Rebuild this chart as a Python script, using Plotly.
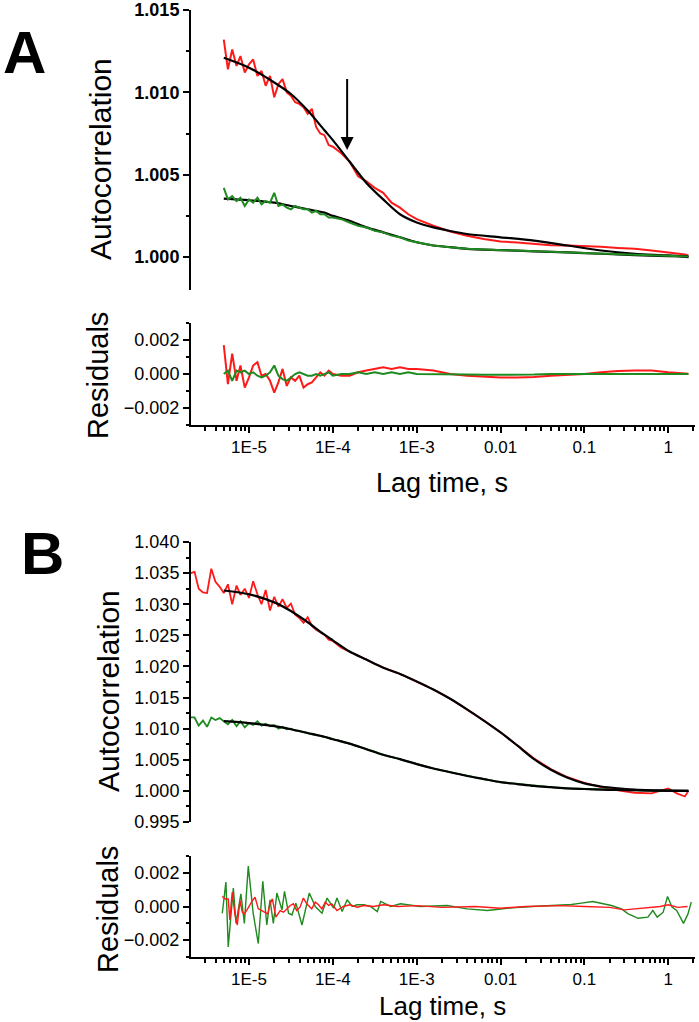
import math
import plotly.graph_objects as go

# ---------------- DATA ----------------
# Panel A: lag times (s) for measured curves and residuals
lag_a = [5.0e-6, 5.6e-6, 6.3e-6, 7.1e-6, 7.9e-6, 8.9e-6,
         1.0e-5, 1.12e-5, 1.26e-5, 1.41e-5, 1.58e-5, 1.78e-5, 2.0e-5, 2.24e-5, 2.51e-5, 2.82e-5,
         3.16e-5, 3.55e-5, 3.98e-5, 4.47e-5, 5.01e-5, 5.62e-5, 6.31e-5, 7.08e-5, 7.94e-5, 8.91e-5,
         1.0e-4, 1.26e-4, 1.58e-4, 2.0e-4, 2.51e-4, 3.16e-4, 3.98e-4, 5.01e-4, 6.31e-4, 7.94e-4,
         1.0e-3, 1.58e-3, 2.51e-3, 3.98e-3, 6.31e-3,
         1.0e-2, 1.58e-2, 2.51e-2, 3.98e-2, 6.31e-2,
         0.1, 0.158, 0.251, 0.398, 0.631,
         1.0, 1.26, 1.58, 1.74]

red_a = [1.0132, 1.0114, 1.0126, 1.0116, 1.0122, 1.0112,
         1.0117, 1.0120, 1.0110, 1.0113, 1.0104, 1.0110, 1.0097, 1.0105, 1.0108, 1.0100,
         1.0098, 1.0094, 1.0093, 1.0091, 1.0087, 1.0090, 1.0079, 1.0075, 1.0074, 1.0068,
         1.0067, 1.0063, 1.0058, 1.0049, 1.0046, 1.0042, 1.0039, 1.0033, 1.0030, 1.0026,
         1.0023, 1.0019, 1.00155, 1.0013, 1.0011,
         1.00095, 1.00088, 1.0008, 1.00072, 1.0007,
         1.00068, 1.00062, 1.00055, 1.0005, 1.0004,
         1.0003, 1.00022, 1.00015, 1.0001]

green_a = [1.0042, 1.0035, 1.0037, 1.0034, 1.0036, 1.0031,
           1.0035, 1.0033, 1.0036, 1.0032, 1.0034, 1.0033, 1.0039, 1.0031, 1.0032, 1.0030,
           1.0029, 1.0031, 1.0030, 1.0029, 1.0029, 1.0027, 1.0028, 1.0026, 1.0026, 1.0024,
           1.0024, 1.0023, 1.0021, 1.0019, 1.0018, 1.0016, 1.0015, 1.0013, 1.0012, 1.0010,
           1.0009, 1.0007, 1.0006, 1.0005, 1.00046,
           1.00042, 1.00038, 1.00035, 1.00031, 1.00028,
           1.00025, 1.00021, 1.00018, 1.00014, 1.00011,
           1.00008, 1.00006, 1.00005, 1.00004]

fit_lag_a = [5e-6, 1e-5, 2e-5, 3.16e-5, 5.01e-5, 7.94e-5, 1e-4, 1.58e-4, 2.51e-4, 3.98e-4, 6.31e-4,
             1e-3, 1.58e-3, 2.51e-3, 3.98e-3, 1e-2, 2.51e-2, 6.31e-2, 0.158, 0.398, 1.0, 1.74]
fit_red_a = [1.0121, 1.0115, 1.0106, 1.0099, 1.0089, 1.0077, 1.0071, 1.0058, 1.0045, 1.0035, 1.0026,
             1.0021, 1.0018, 1.00158, 1.0014, 1.0012, 1.0010, 1.0007, 1.0004, 1.0002, 1.0001, 1.0000]
fit_green_a = [1.00355, 1.00345, 1.0033, 1.0031, 1.0029, 1.0027, 1.0025, 1.0022, 1.0018, 1.0015, 1.0012,
               1.0009, 1.0007, 1.0006, 1.0005, 1.00042, 1.00035, 1.00028, 1.0002, 1.00012, 1.00006, 1.00004]

res_red_a = [0.0017, -0.0006, 0.0012, -0.0004, 0.0005, -0.0008,
             -0.0002, 0.0005, 0.0007, -0.0001, 0.0000, -0.0004, -0.0011, -0.0005, 0.0003, -0.0007,
             -0.0002, -0.0004, -0.0001, -0.0008, -0.0006, -0.0005, -0.0002, 0.0001, -0.0001, 0.0002,
             0.0000, -0.0001, -0.0001, 0.0001, 0.0002, 0.0003, 0.0004, 0.0003, 0.0004, 0.0003,
             0.0003, 0.0002, 0.0000, -0.0001, -0.00015,
             -0.0002, -0.0002, -0.00018, -0.0001, -0.00005,
             0.0000, 0.0001, 0.00018, 0.0002, 0.0002,
             0.0001, 0.00005, 0.00003, 0.00002]
res_green_a = [0.0000, 0.0002, -0.0004, 0.0002, 0.0001, 0.0002,
               0.0000, 0.0001, -0.0001, -0.0002, -0.0001, 0.0001, 0.0005, -0.0001, -0.0003, -0.0004,
               -0.0002, 0.0000, 0.0001, 0.0000, -0.0001, -0.0001, 0.0000, -0.0001, 0.0000, 0.0001,
               -0.0001, 0.0000, 0.0000, 0.0001, 0.0000, 0.0001, 0.0000, 0.0001, 0.0000, 0.0001,
               0.0000, 0.0000, 0.0000, -0.00003, -0.00005,
               -0.00005, -0.00005, -0.00003, 0.0000, 0.0000,
               0.0, 0.0, 0.0, 0.0, 0.0,
               0.0, 0.0, 0.0, 0.0]

# Arrow marker in panel A
arrow_lag = 1.48e-4
arrow_tail = 1.0109
arrow_tip = 1.0065

# Panel B
lag_b = [2.0e-6, 2.24e-6, 2.51e-6, 2.82e-6, 3.16e-6, 3.55e-6, 3.98e-6, 4.47e-6] + lag_a

red_b = [1.0350, 1.0352, 1.0325, 1.0319, 1.0318, 1.0357, 1.0336, 1.0328,
         1.0318, 1.0332, 1.0300, 1.0330, 1.0315, 1.0325,
         1.0310, 1.0337, 1.0316, 1.0300, 1.0323, 1.0290, 1.0312, 1.0296, 1.0308, 1.0294,
         1.0301, 1.0283, 1.0278, 1.0270, 1.0279, 1.0265, 1.0259, 1.0255, 1.0251, 1.0243,
         1.0241, 1.0230, 1.0224, 1.0217, 1.0211, 1.0204, 1.0198, 1.0193, 1.0188, 1.0182,
         1.0176, 1.0163, 1.0148, 1.0131, 1.0113,
         1.0094, 1.0073, 1.0052, 1.0035, 1.0022,
         1.0013, 1.0006, 1.0001, 0.9997, 0.9996,
         1.0004, 0.9996, 0.9991, 1.0000]

green_b = [1.0118, 1.0118, 1.0105, 1.0113, 1.0103, 1.0118, 1.0114, 1.0117,
           1.0112, 1.0107, 1.0114, 1.0104, 1.0112, 1.0102,
           1.0109, 1.0106, 1.0112, 1.0105, 1.0108, 1.0104, 1.0106, 1.0100, 1.0103, 1.0099,
           1.0100, 1.0097, 1.0096, 1.0094, 1.0093, 1.0091, 1.0090, 1.0088, 1.0087, 1.0085,
           1.0083, 1.0080, 1.0076, 1.0072, 1.0067, 1.0063, 1.0058, 1.0055, 1.0051, 1.0047,
           1.0043, 1.0036, 1.0030, 1.0024, 1.0019,
           1.0014, 1.0011, 1.0008, 1.0006, 1.0004,
           1.0003, 1.0002, 1.00015, 1.0001, 1.00005,
           1.0, 1.0, 1.0, 1.0]

fit_lag_b = [5e-6, 1e-5, 2e-5, 3.16e-5, 5.01e-5, 7.94e-5, 1e-4, 1.58e-4, 2.51e-4, 3.98e-4, 6.31e-4,
             1e-3, 1.58e-3, 2.51e-3, 3.98e-3, 6.31e-3, 1e-2, 1.58e-2, 2.51e-2, 3.98e-2, 6.31e-2,
             0.1, 0.158, 0.251, 0.398, 0.631, 1.0, 1.74]
fit_red_b = [1.0322, 1.0316, 1.0303, 1.0289, 1.0271, 1.0251, 1.0242, 1.0224, 1.0211, 1.0198, 1.0188,
             1.0176, 1.0163, 1.0148, 1.0131, 1.0113, 1.0094, 1.0073, 1.0051, 1.0034, 1.0021,
             1.0012, 1.0007, 1.0004, 1.0002, 1.0001, 1.00005, 1.0]
fit_green_b = [1.0112, 1.0109, 1.0104, 1.0099, 1.0093, 1.0087, 1.0083, 1.0076, 1.0067, 1.0058, 1.0051,
               1.0043, 1.0036, 1.0030, 1.0024, 1.0019, 1.0014, 1.0011, 1.0008, 1.0006, 1.0004,
               1.0003, 1.0002, 1.00015, 1.0001, 1.00005, 1.0, 1.0]

res_lag_green_b = [4.8e-6, 5.3e-6, 5.65e-6, 6.5e-6, 7.0e-6, 8.0e-6, 8.8e-6, 9.8e-6, 1.12e-5, 1.29e-5,
                   1.46e-5, 1.63e-5, 1.78e-5, 1.95e-5, 2.15e-5, 2.47e-5, 2.65e-5, 2.96e-5, 3.25e-5, 3.62e-5,
                   4.28e-5, 5.24e-5, 6.17e-5, 7.42e-5, 8.53e-5, 1.02e-4, 1.12e-4, 1.29e-4, 1.48e-4, 1.7e-4,
                   1.95e-4, 2.34e-4, 2.81e-4, 3.39e-4, 3.71e-4, 4.9e-4, 6.4e-4, 8.5e-4, 1.1e-3, 2.3e-3,
                   4.0e-3, 7.0e-3, 1.2e-2, 2.4e-2, 4.5e-2, 7.0e-2, 9.2e-2, 0.126, 0.21, 0.277,
                   0.333, 0.437, 0.571, 0.655, 0.74, 0.87, 0.98, 1.11, 1.26, 1.52, 1.72, 1.88]
res_green_b = [-0.0004, 0.00145, -0.0024, 0.0011, -0.001, 0.00075, -0.001, 0.0024, -0.0004, -0.0022,
               0.0015, -0.0011, 0.0004, -0.001, 0.0008, -0.0002, 0.0009, -0.0004, -0.0005, 0.0002,
               -0.0011, 0.0008, 0.0, -0.0004, 0.0005, -0.0001, 0.0005, -0.0003, 0.0004, 0.0,
               0.0001, 0.0001, 0.0, -0.0003, 0.0003, 0.0, 0.00016, 0.00006, 0.0, 0.00006,
               -0.00014, -0.00024, -0.0001, 0.0, 0.00006, 0.00012, 0.0002, 0.0003, 0.00006, -0.00014,
               -0.00044, -0.0007, -0.00063, -0.00024, -0.00063, -0.00034, 0.0006, -0.00004, -0.00024, -0.001,
               -0.00044, 0.00026]

res_lag_red_b = [4.8e-6, 5.2e-6, 5.65e-6, 5.9e-6, 6.3e-6, 6.8e-6, 7.25e-6, 7.8e-6, 8.3e-6, 8.8e-6,
                 9.6e-6, 1.03e-5, 1.1e-5, 1.18e-5, 1.29e-5, 1.42e-5, 1.55e-5, 1.67e-5, 1.78e-5, 1.9e-5,
                 2.09e-5, 2.2e-5, 2.35e-5, 2.58e-5, 2.82e-5, 3.1e-5, 3.38e-5, 3.7e-5, 4.06e-5, 4.45e-5,
                 4.88e-5, 5.6e-5, 6.17e-5, 6.7e-5, 7.4e-5, 8.1e-5, 8.9e-5, 9.7e-5, 1.12e-4, 1.33e-4,
                 1.6e-4, 1.95e-4, 2.34e-4, 3.05e-4, 4.0e-4, 6.0e-4, 1.0e-3, 2.0e-3, 5.0e-3, 1.0e-2,
                 2.0e-2, 5.0e-2, 0.1, 0.2, 0.3, 0.5, 0.8, 1.0, 1.3, 1.7]
res_red_b = [0.0006, 0.00045, 0.00045, -0.0008, 0.00085, -0.0005, -0.0011, 0.00036, -0.00034, -0.00044,
             -0.00014, 0.00016, 0.00036, 0.00055, -0.00014, -0.00024, -0.00034, -0.00044, 0.00016, 0.00045,
             -0.00063, -0.00044, -0.00024, -0.00034, -0.00014, 0.00006, 0.00016, -0.00024, -0.00004, 0.0005,
             0.00016, -0.00014, 0.00026, 0.00012, -0.00014, 0.00026, 0.00006, 0.00016, -0.00024, 0.0,
             0.0001, -0.00004, 0.00006, 0.0, 0.0001, 0.0, 0.00005, -0.00005, 0.0, -0.0001,
             0.0, 0.00005, 0.0, -0.00005, -0.0002, -0.0001, 0.0, 0.0001, -0.00005, 0.0]

x_tick_vals = [1e-5, 1e-4, 1e-3, 1e-2, 1e-1, 1]
x_tick_text = ["1E-5", "1E-4", "1E-3", "0.01", "0.1", "1"]

# ---------------- STYLE ----------------
W, H = 699, 1022
FONT = "Arial, 'Liberation Sans', sans-serif"
RED = "#ff1a1a"
GREEN = "#1f8a1f"
BLACK = "#000000"


def fx(p):
    return p / W


def fy(p):
    return 1 - p / H


fig = go.Figure()


def add(x, y, xa, ya, color, width, shape="linear"):
    fig.add_trace(go.Scatter(x=x, y=y, xaxis=xa, yaxis=ya, mode="lines",
                             line=dict(color=color, width=width, shape=shape, smoothing=0.8),
                             showlegend=False, hoverinfo="skip"))


# Panel A main
add(lag_a, red_a, "x", "y", RED, 2)
add(fit_lag_a, fit_red_a, "x", "y", BLACK, 2.2, "spline")
add(fit_lag_a, fit_green_a, "x", "y", BLACK, 2.2, "spline")
add(lag_a, green_a, "x", "y", GREEN, 2)
# Panel A residuals
add(lag_a, res_red_a, "x2", "y2", RED, 2)
add(lag_a, res_green_a, "x2", "y2", GREEN, 2)
# Panel B main
add(lag_b, red_b, "x3", "y3", RED, 1.8)
add(lag_b, green_b, "x3", "y3", GREEN, 1.8)
add(fit_lag_b, fit_red_b, "x3", "y3", BLACK, 2.2, "spline")
add(fit_lag_b, fit_green_b, "x3", "y3", BLACK, 2.2, "spline")
# Panel B residuals
add(res_lag_green_b, res_green_b, "x4", "y4", GREEN, 1.4)
add(res_lag_red_b, res_red_b, "x4", "y4", RED, 1.4)

minor_x = [m * 10 ** e for e in range(-6, 1) for m in range(2, 10)]
xr = [-5.692, 0.319]
xdom = [fx(191), fx(695)]

tick_font = dict(family=FONT, size=18, color=BLACK)
xtick_font = dict(family=FONT, size=17, color=BLACK)

base_x = dict(type="log", range=xr, domain=xdom, showgrid=False, zeroline=False, automargin=False)
shown_x = dict(base_x, showline=True, linecolor=BLACK, linewidth=2, ticks="outside",
               ticklen=6, tickwidth=2, tickcolor=BLACK, tickmode="array",
               tickvals=x_tick_vals, ticktext=x_tick_text, tickfont=xtick_font,
               minor=dict(tickmode="array", tickvals=minor_x, ticks="outside",
                          ticklen=3.5, tickwidth=1.5, tickcolor=BLACK))


def yax(dom, rng, dtick, mdtick, tick0, font):
    return dict(domain=dom, range=rng, showgrid=False, zeroline=False, showline=True,
                automargin=False,
                linecolor=BLACK, linewidth=2, ticks="outside", ticklen=6, tickwidth=2,
                tickcolor=BLACK, tickmode="linear", tick0=tick0, dtick=dtick,
                tickformat=".3f", tickfont=font,
                minor=dict(tickmode="linear", tick0=tick0, dtick=mdtick, ticks="outside",
                           ticklen=3.5, tickwidth=1.5, tickcolor=BLACK))


fig.update_layout(
    template="none",
    width=W, height=H, autosize=False,
    margin=dict(l=0, r=0, t=0, b=0, pad=0),
    paper_bgcolor="white", plot_bgcolor="white",
    font=dict(family=FONT, color=BLACK),
    xaxis=dict(base_x, anchor="y", visible=False),
    yaxis=dict(yax([fy(290), fy(10)], [0.998, 1.015], 0.005, 0.0025, 1.0,
                   dict(family=FONT, size=18, color=BLACK, weight="bold")), anchor="x"),
    xaxis2=dict(shown_x, anchor="y2"),
    yaxis2=dict(yax([fy(425), fy(323)], [-0.003, 0.003], 0.002, 0.001, 0.0, tick_font), anchor="x2"),
    xaxis3=dict(base_x, anchor="y3", visible=False),
    yaxis3=dict(yax([fy(822), fy(542)], [0.995, 1.040], 0.005, 0.0025, 1.0, tick_font), anchor="x3"),
    xaxis4=dict(shown_x, anchor="y4"),
    yaxis4=dict(yax([fy(957), fy(856)], [-0.003, 0.003], 0.002, 0.001, 0.0, tick_font), anchor="x4"),
)


def label(text, px, py, size, angle=0, bold=False):
    fig.add_annotation(text=text, x=fx(px), y=fy(py), xref="paper", yref="paper",
                       xanchor="center", yanchor="middle", showarrow=False, textangle=angle,
                       font=dict(family=FONT, size=size, color=BLACK,
                                 weight="bold" if bold else "normal"))


label("A", 24, 53, 60, bold=True)
label("B", 42, 553, 60, bold=True)
label("Autocorrelation", 100, 159, 30, angle=-90)
label("Residuals", 98, 376, 29, angle=-90)
label("Lag time, s", 442, 483, 27)
label("Autocorrelation", 108, 691, 30, angle=-90)
label("Residuals", 108, 910, 29, angle=-90)
label("Lag time, s", 442, 1006, 26)

fig.add_annotation(x=math.log10(arrow_lag), y=arrow_tip, ax=math.log10(arrow_lag), ay=arrow_tail,
                   xref="x", yref="y", axref="x", ayref="y", text="", showarrow=True,
                   arrowhead=2, arrowsize=1.3, arrowwidth=2, arrowcolor=BLACK, standoff=0)

fig.write_html("out.html", config={"displayModeBar": False},
               post_script="document.body.style.margin='0';document.body.style.padding='0';")
